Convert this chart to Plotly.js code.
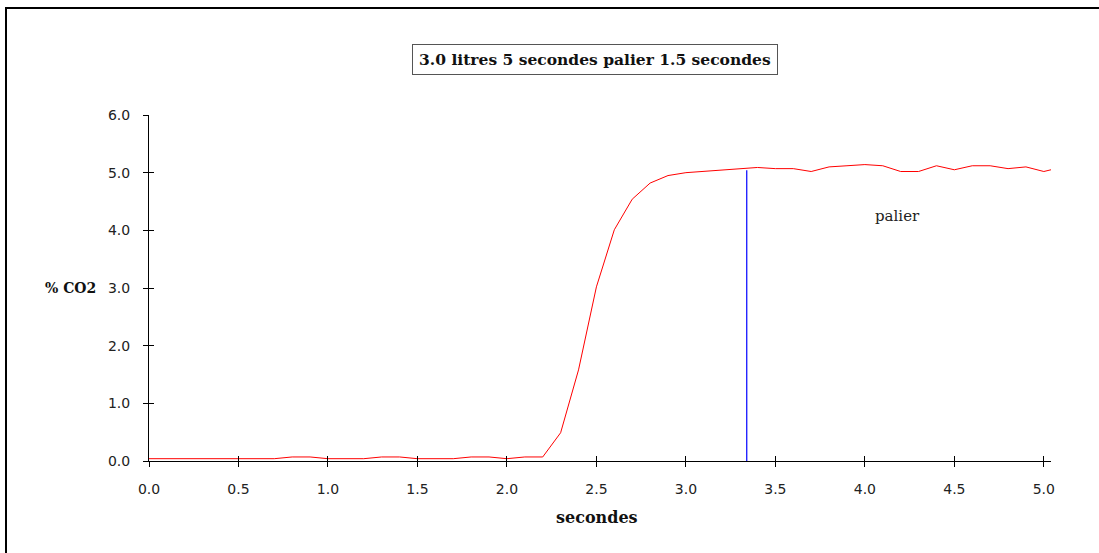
<!DOCTYPE html>
<html>
<head>
<meta charset="utf-8">
<script src="https://cdn.plot.ly/plotly-3.0.1.min.js"></script>
<style>
  html, body { margin: 0; padding: 0; overflow: hidden; background: #fff; }
  #chart { width: 1099px; height: 553px; }
  #frame { position: absolute; left: 5px; top: 7px; width: 2000px; height: 2000px;
           border-left: 2px solid #000; border-top: 2px solid #000; pointer-events: none; }
</style>
</head>
<body>
<div id="chart"></div>
<div id="frame"></div>
<script>
// Data
const time = [0.0, 0.1, 0.2, 0.3, 0.4, 0.5, 0.6, 0.7, 0.8, 0.9,
              1.0, 1.1, 1.2, 1.3, 1.4, 1.5, 1.6, 1.7, 1.8, 1.9,
              2.0, 2.1, 2.2, 2.3, 2.4, 2.5, 2.6, 2.7, 2.8, 2.9,
              3.0, 3.1, 3.2, 3.3, 3.4, 3.5, 3.6, 3.7, 3.8, 3.9,
              4.0, 4.1, 4.2, 4.3, 4.4, 4.5, 4.6, 4.7, 4.8, 4.9,
              5.0, 5.04];
const co2 = [0.04, 0.04, 0.04, 0.04, 0.04, 0.04, 0.04, 0.04, 0.07, 0.07,
             0.04, 0.04, 0.04, 0.07, 0.07, 0.04, 0.04, 0.04, 0.07, 0.07,
             0.04, 0.07, 0.07, 0.49, 1.58, 3.02, 4.01, 4.54, 4.82, 4.95,
             5.00, 5.02, 5.04, 5.06, 5.09, 5.07, 5.07, 5.02, 5.10, 5.12,
             5.14, 5.12, 5.02, 5.02, 5.12, 5.05, 5.12, 5.12, 5.07, 5.10,
             5.02, 5.05];
const palierX = [3.34, 3.34];
const palierY = [0, 5.04];
const xTickVals = [0.0, 0.5, 1.0, 1.5, 2.0, 2.5, 3.0, 3.5, 4.0, 4.5, 5.0];
const xTickText = ["0.0", "0.5", "1.0", "1.5", "2.0", "2.5", "3.0", "3.5", "4.0", "4.5", "5.0"];
const yTickVals = [0, 1, 2, 3, 4, 5, 6];
const yTickText = ["0.0", "1.0", "2.0", "3.0", "4.0", "5.0", "6.0"];
const titleText = "3.0 litres 5 secondes palier 1.5 secondes";
const xTitle = "secondes";
const yTitle = "% CO2";
const noteText = "palier";
const noteX = 4.18, noteY = 4.24;

const serif = "DejaVu Serif, serif";
const sans = "DejaVu Sans, sans-serif";

const traces = [
  { x: time, y: co2, type: "scatter", mode: "lines",
    line: { color: "#ff0000", width: 1 }, hoverinfo: "skip", xaxis: "x", yaxis: "y" },
  { x: palierX, y: palierY, type: "scatter", mode: "lines",
    line: { color: "#0000ff", width: 1.2 }, hoverinfo: "skip", xaxis: "x2", yaxis: "y2" }
];

const tickFont = { family: sans, size: 14, color: "#222" };

const layout = {
  width: 1099, height: 553,
  margin: { l: 149, r: 48, t: 115, b: 92 },
  paper_bgcolor: "#fff", plot_bgcolor: "#fff",
  showlegend: false,
  xaxis: {
    range: [0, 5.04], showgrid: false, zeroline: false,
    showline: true, linecolor: "#000", linewidth: 1,
    ticks: "outside", ticklen: 5, tickcolor: "#000", tickwidth: 1,
    tickvals: xTickVals, ticktext: xTickText, tickfont: tickFont,
    ticklabelstandoff: 10
  },
  yaxis: {
    range: [0, 6], showgrid: false, zeroline: false,
    showline: true, linecolor: "#000", linewidth: 1,
    ticks: "outside", ticklen: 5, tickcolor: "#000", tickwidth: 1,
    tickvals: yTickVals, ticktext: yTickText, tickfont: tickFont,
    ticklabelstandoff: 10
  },
  xaxis2: {
    matches: "x", overlaying: "x", anchor: "y2", showgrid: false, zeroline: false,
    showline: false, ticks: "inside", ticklen: 5, tickcolor: "#000", tickwidth: 1,
    tickvals: xTickVals, showticklabels: false
  },
  yaxis2: {
    matches: "y", overlaying: "y", anchor: "x2", side: "left", showgrid: false, zeroline: false,
    showline: false, ticks: "inside", ticklen: 5, tickcolor: "#000", tickwidth: 1,
    tickvals: yTickVals, showticklabels: false
  },
  annotations: [
    { text: titleText, xref: "paper", yref: "paper", x: 0.4945, y: 1.160,
      xanchor: "center", yanchor: "middle", showarrow: false,
      font: { family: serif, size: 15.5, color: "#111", weight: "bold" },
      bordercolor: "#555", borderwidth: 1, borderpad: 3, width: 358, height: 23 },
    { text: yTitle, xref: "paper", yref: "paper", x: -0.0865, y: 0.5,
      xanchor: "center", yanchor: "middle", showarrow: false,
      font: { family: serif, size: 14, color: "#111", weight: "bold" } },
    { text: xTitle, xref: "paper", yref: "paper", x: 0.4967, y: -0.1647,
      xanchor: "center", yanchor: "middle", showarrow: false,
      font: { family: serif, size: 16, color: "#111", weight: "bold" } },
    { text: noteText, xref: "x", yref: "y", x: noteX, y: noteY,
      xanchor: "center", yanchor: "middle", showarrow: false,
      font: { family: serif, size: 15, color: "#222" } }
  ]
};

Plotly.newPlot("chart", traces, layout, { staticPlot: true, displayModeBar: false });
</script>
</body>
</html>
